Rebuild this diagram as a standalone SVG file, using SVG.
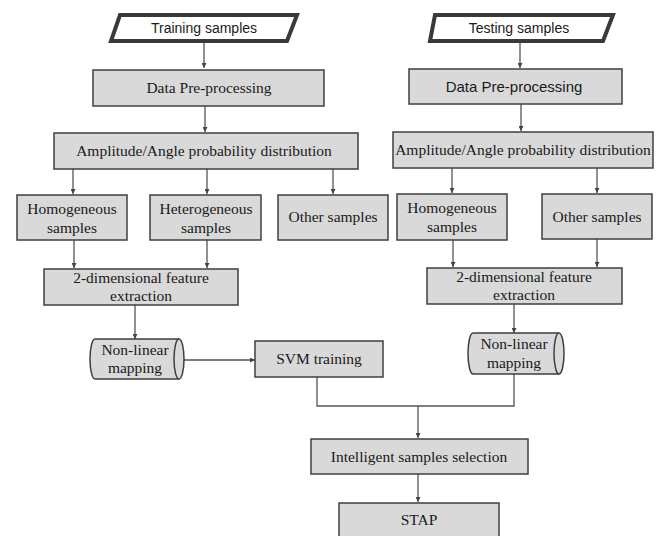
<svg xmlns="http://www.w3.org/2000/svg" width="659" height="536" viewBox="0 0 659 536">
<defs>
<style>
.box{fill:#d9d9d9;stroke:#3f3f3f;stroke-width:1.5}
.io{fill:#ffffff;stroke:#3a3a3a;stroke-width:4;stroke-linejoin:miter}
.ser{font-family:"Liberation Serif","Times New Roman",serif;font-size:15.5px;fill:#1a1a1a;text-anchor:middle}
.sans{font-family:"Liberation Sans",Arial,sans-serif;font-size:14px;fill:#1a1a1a;text-anchor:middle}
.ln{fill:none;stroke:#555;stroke-width:1.3}
</style>
<marker id="ah" viewBox="0 0 10 10" refX="10" refY="5" markerWidth="5" markerHeight="5" orient="auto" markerUnits="userSpaceOnUse">
<path d="M0,0 L10,5 L0,10 Z" fill="#444"/>
</marker>
</defs>
<rect width="659" height="536" fill="#ffffff"/>
<g id="connectors">
<path class="ln" d="M204,42 V68" marker-end="url(#ah)"/>
<path class="ln" d="M205,106 V132" marker-end="url(#ah)"/>
<path class="ln" d="M73,169 V194" marker-end="url(#ah)"/>
<path class="ln" d="M207,169 V194" marker-end="url(#ah)"/>
<path class="ln" d="M333,169 V194" marker-end="url(#ah)"/>
<path class="ln" d="M74,240 V268" marker-end="url(#ah)"/>
<path class="ln" d="M207,240 V268" marker-end="url(#ah)"/>
<path class="ln" d="M135,305 V339" marker-end="url(#ah)"/>
<path class="ln" d="M184,360 H255" marker-end="url(#ah)"/>
<path class="ln" d="M520,42 V68" marker-end="url(#ah)"/>
<path class="ln" d="M521,104 V131" marker-end="url(#ah)"/>
<path class="ln" d="M452,168 V193" marker-end="url(#ah)"/>
<path class="ln" d="M597,168 V193" marker-end="url(#ah)"/>
<path class="ln" d="M453,240 V267" marker-end="url(#ah)"/>
<path class="ln" d="M597,239 V267" marker-end="url(#ah)"/>
<path class="ln" d="M514,304 V333" marker-end="url(#ah)"/>
<path class="ln" d="M317,377 V406 H514 V374"/>
<path class="ln" d="M418,406 V438" marker-end="url(#ah)"/>
<path class="ln" d="M418,474 V502" marker-end="url(#ah)"/>
</g>
<g id="training-samples">
<path class="io" d="M120,15 H297 L287,41 H111 Z"/>
<text class="sans" x="204" y="33">Training samples</text>
</g>
<g id="testing-samples">
<path class="io" d="M435,15 H613 L603,41 H430 Z"/>
<text class="sans" x="519" y="33">Testing samples</text>
</g>
<g id="preprocess-left">
<rect class="box" x="93" y="70" width="231" height="36"/>
<text class="ser" x="209" y="93">Data Pre-processing</text>
</g>
<g id="preprocess-right">
<rect class="box" x="409" y="69" width="213" height="35"/>
<text class="sans" x="514" y="92" style="font-size:15px">Data Pre-processing</text>
</g>
<g id="amp-left">
<rect class="box" x="54" y="133" width="304" height="36"/>
<text class="ser" x="204" y="156">Amplitude/Angle probability distribution</text>
</g>
<g id="amp-right">
<rect class="box" x="393" y="132" width="260" height="36"/>
<text class="ser" x="523" y="155">Amplitude/Angle probability distribution</text>
</g>
<g id="homog-left">
<rect class="box" x="17" y="195" width="110" height="45"/>
<text class="ser" x="72" y="214">Homogeneous</text>
<text class="ser" x="72" y="233">samples</text>
</g>
<g id="hetero-left">
<rect class="box" x="150" y="195" width="111" height="45"/>
<text class="ser" x="206" y="214">Heterogeneous</text>
<text class="ser" x="206" y="233">samples</text>
</g>
<g id="other-left">
<rect class="box" x="278" y="195" width="110" height="45"/>
<text class="ser" x="333" y="222">Other samples</text>
</g>
<g id="homog-right">
<rect class="box" x="397" y="194" width="110" height="46"/>
<text class="ser" x="452" y="213">Homogeneous</text>
<text class="ser" x="452" y="232">samples</text>
</g>
<g id="other-right">
<rect class="box" x="542" y="194" width="110" height="45"/>
<text class="ser" x="597" y="222">Other samples</text>
</g>
<g id="feat-left">
<rect class="box" x="44" y="269" width="194" height="36"/>
<text class="ser" x="141" y="283">2-dimensional feature</text>
<text class="ser" x="141" y="301">extraction</text>
</g>
<g id="feat-right">
<rect class="box" x="427" y="268" width="195" height="36"/>
<text class="ser" x="524" y="282">2-dimensional feature</text>
<text class="ser" x="524" y="300">extraction</text>
</g>
<g id="nonlinear-left">
<path class="box" d="M95,339 H179 A5,20 0 0 1 179,379 H95 A5,20 0 0 1 95,339 Z"/>
<path class="box" d="M179,339 A5,20 0 0 0 179,379" fill="none"/>
<text class="ser" x="135" y="355">Non-linear</text>
<text class="ser" x="135" y="373">mapping</text>
</g>
<g id="svm-training">
<rect class="box" x="255" y="341" width="128" height="36"/>
<text class="ser" x="319" y="364">SVM training</text>
</g>
<g id="nonlinear-right">
<path class="box" d="M473,333 H559 A5,20.5 0 0 1 559,374 H473 A5,20.5 0 0 1 473,333 Z"/>
<path class="box" d="M559,333 A5,20.5 0 0 0 559,374" fill="none"/>
<text class="ser" x="514" y="349">Non-linear</text>
<text class="ser" x="514" y="368">mapping</text>
</g>
<g id="intelligent-selection">
<rect class="box" x="311" y="439" width="217" height="35"/>
<text class="ser" x="419" y="462">Intelligent samples selection</text>
</g>
<g id="stap">
<rect class="box" x="339" y="503" width="160" height="40"/>
<text class="ser" x="419" y="525">STAP</text>
</g>
</svg>
